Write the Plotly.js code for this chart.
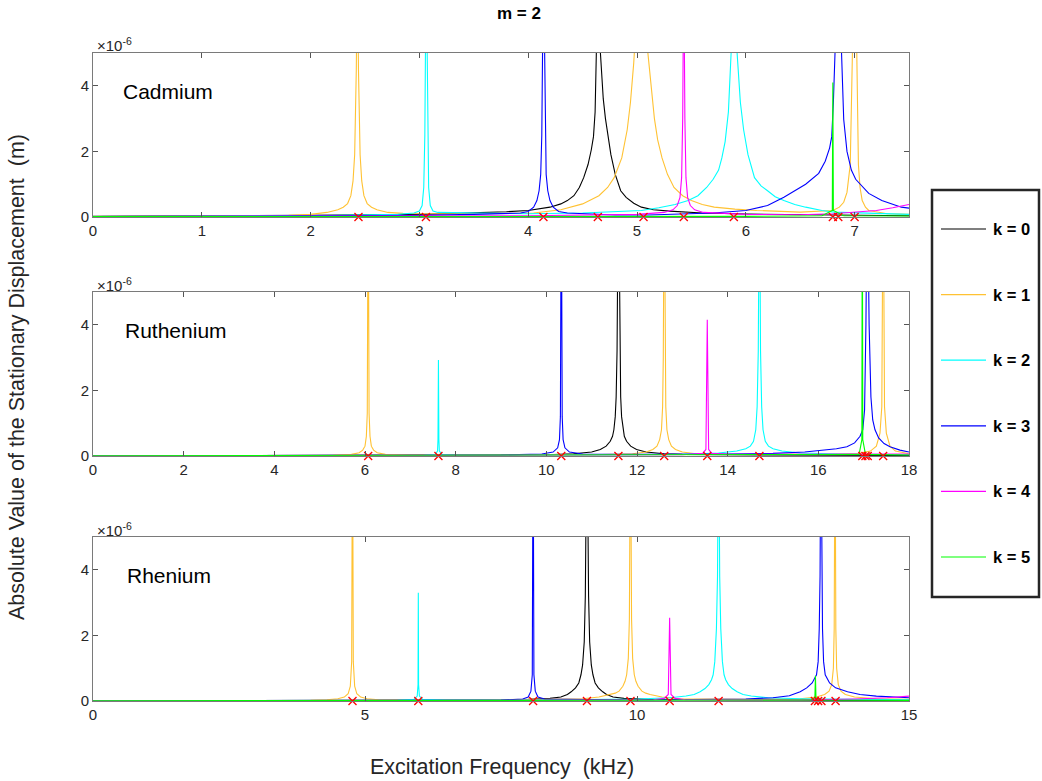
<!DOCTYPE html>
<html>
<head>
<meta charset="utf-8">
<script src="https://cdn.plot.ly/plotly-3.0.1.min.js"></script>
<style>
  body { margin: 0; background: #fff; }
  #chart { width: 1042px; height: 781px; }
</style>
</head>
<body>
<div id="chart"></div>
<script>
// amplitudes are in units of 1e-6 m, frequencies in kHz
const kLabels = ['k = 0', 'k = 1', 'k = 2', 'k = 3', 'k = 4', 'k = 5'];
const kColors = ['#000000', '#ffc233', '#00ffff', '#0000ff', '#ff00ff', '#00ff00'];

// Cadmium
const cdFreq0 = [0, 1, 2, 3, 3.5, 3.8, 4.0, 4.2, 4.3, 4.36, 4.42, 4.47, 4.51, 4.55, 4.58, 4.6, 4.615, 4.63, 4.645, 4.66, 4.675, 4.69, 4.71, 4.73, 4.76, 4.8, 4.85, 4.9, 4.97, 5.04, 5.15, 5.3, 5.45, 5.6, 6.0, 6.5, 7.0, 7.5];
const cdAmp0  = [0.02, 0.03, 0.05, 0.08, 0.12, 0.16, 0.2, 0.3, 0.4, 0.5, 0.65, 0.9, 1.2, 1.6, 2.05, 2.45, 3.2, 4.5, 8, 5.2, 4.2, 3.6, 3.0, 2.6, 1.9, 1.3, 0.8, 0.6, 0.42, 0.3, 0.22, 0.18, 0.14, 0.12, 0.09, 0.07, 0.05, 0.04];
const cdFreq1 = [0, 1, 1.8, 2.0, 2.15, 2.25, 2.3, 2.34, 2.37, 2.39, 2.405, 2.42, 2.43, 2.44, 2.455, 2.47, 2.49, 2.52, 2.56, 2.61, 2.71, 2.85,
                 3.0, 3.6, 4.05, 4.3, 4.5, 4.65, 4.73, 4.79, 4.86, 4.91, 4.94, 4.97, 5.03, 5.1, 5.13, 5.16, 5.19, 5.23, 5.28, 5.34, 5.42, 5.5, 5.6, 5.71, 5.9, 6.1,
                 6.5, 6.7, 6.8, 6.86, 6.9, 6.93, 6.96, 6.98, 7.0, 7.02, 7.035, 7.05, 7.07, 7.1, 7.13, 7.3, 7.5];
const cdAmp1  = [0.01, 0.02, 0.05, 0.08, 0.14, 0.22, 0.3, 0.41, 0.65, 1.1, 1.9, 4.5, 8, 4.5, 1.9, 1.1, 0.65, 0.41, 0.3, 0.22, 0.14, 0.11,
                 0.1, 0.1, 0.12, 0.22, 0.4, 0.65, 0.9, 1.2, 1.8, 2.66, 3.5, 4.7, 8, 5, 3.9, 3.0, 2.35, 1.8, 1.3, 0.9, 0.65, 0.5, 0.38, 0.3, 0.24, 0.2,
                 0.15, 0.17, 0.2, 0.3, 0.45, 0.75, 1.6, 5, 8, 5, 1.6, 0.9, 0.5, 0.3, 0.2, 0.1, 0.08];
const cdFreq2 = [0, 1, 2, 2.8, 2.95, 3.0, 3.025, 3.04, 3.05, 3.062, 3.075, 3.085, 3.1, 3.125, 3.17, 3.4, 4.0, 4.5, 4.8, 5.04, 5.2, 5.35, 5.47, 5.56, 5.64, 5.7, 5.75, 5.78, 5.81, 5.84, 5.865,
                 5.89, 5.92, 5.95, 5.98, 6.02, 6.08, 6.14, 6.2, 6.27, 6.35, 6.45, 6.55, 6.7, 6.81, 7.2, 7.5];
const cdAmp2  = [0.01, 0.02, 0.04, 0.08, 0.12, 0.18, 0.35, 0.9, 2.5, 8, 2.5, 0.9, 0.35, 0.18, 0.14, 0.13, 0.1, 0.12, 0.16, 0.2, 0.28, 0.38, 0.5, 0.65, 0.9, 1.15, 1.43, 1.8, 2.3, 3.2, 5,
                 8, 5, 3.5, 2.66, 1.9, 1.2, 0.95, 0.8, 0.62, 0.5, 0.38, 0.3, 0.2, 0.15, 0.1, 0.08];
const cdFreq3 = [0, 1, 2, 3, 3.5, 3.8, 3.93, 4.0, 4.05, 4.08, 4.1, 4.115, 4.125, 4.14, 4.155, 4.165, 4.18, 4.2, 4.23, 4.28, 4.36, 4.6, 4.8, 5.1, 5.4, 5.7,
                 6.0, 6.2, 6.35, 6.45, 6.55, 6.67, 6.73, 6.77, 6.79, 6.805, 6.815, 6.85, 6.88, 6.89, 6.9, 6.93, 6.97, 7.01, 7.05, 7.13, 7.25, 7.35, 7.43, 7.5];
const cdAmp3  = [0.01, 0.02, 0.03, 0.05, 0.08, 0.1, 0.12, 0.17, 0.3, 0.5, 0.8, 1.3, 2.5, 8, 2.5, 1.3, 0.8, 0.5, 0.3, 0.17, 0.12, 0.08, 0.06, 0.06, 0.08, 0.12,
                 0.2, 0.35, 0.6, 0.8, 1.0, 1.33, 1.7, 2.1, 2.45, 3.5, 5, 8, 5, 3.8, 2.97, 2.0, 1.43, 1.15, 1.0, 0.72, 0.5, 0.38, 0.3, 0.27];
const cdFreq4 = [0, 2, 4, 5.0, 5.25, 5.33, 5.37, 5.395, 5.41, 5.42, 5.43, 5.44, 5.45, 5.465, 5.49, 5.53, 5.61, 6.0, 6.5, 6.8, 7.0, 7.2, 7.35, 7.5];
const cdAmp4  = [0.01, 0.02, 0.04, 0.08, 0.14, 0.22, 0.35, 0.6, 1.2, 3, 8, 3, 1.2, 0.6, 0.35, 0.22, 0.14, 0.08, 0.07, 0.1, 0.14, 0.2, 0.28, 0.38];
const cdFreq5 = [0, 3, 6, 6.7, 6.795, 6.8, 6.805, 6.9, 7.5];
const cdAmp5  = [0.01, 0.01, 0.02, 0.04, 0.2, 4.1, 0.2, 0.04, 0.03];
const cdRes   = [2.44, 3.06, 4.14, 4.64, 5.06, 5.43, 5.89, 6.80, 6.85, 7.0];

// Ruthenium
const ruFreq0 = [0, 4, 8, 10, 10.6, 11.0, 11.19, 11.32, 11.41, 11.46, 11.49, 11.52, 11.54, 11.56, 11.59, 11.62, 11.64, 11.66, 11.69, 11.72, 11.77, 11.86, 11.99, 12.2, 12.6, 13, 15, 18];
const ruAmp0  = [0.005, 0.01, 0.02, 0.04, 0.07, 0.12, 0.2, 0.3, 0.45, 0.6, 0.8, 1.2, 1.8, 3.2, 9, 3.2, 1.8, 1.2, 0.8, 0.6, 0.45, 0.3, 0.2, 0.12, 0.07, 0.05, 0.03, 0.02];
const ruFreq1 = [0, 4, 5.3, 5.7, 5.87, 5.95, 6.0, 6.03, 6.05, 6.07, 6.09, 6.11, 6.14, 6.19, 6.27, 6.45, 7, 9, 11,
                 11.9, 12.2, 12.35, 12.44, 12.5, 12.54, 12.565, 12.58, 12.6, 12.62, 12.635, 12.66, 12.7, 12.76, 12.85, 13.0, 13.3, 14, 16,
                 16.9, 17.15, 17.28, 17.36, 17.4, 17.43, 17.46, 17.5, 17.58, 17.7, 18];
const ruAmp1  = [0.005, 0.01, 0.02, 0.05, 0.1, 0.18, 0.3, 0.6, 1.3, 9, 1.3, 0.6, 0.3, 0.18, 0.1, 0.05, 0.03, 0.03, 0.04,
                 0.07, 0.12, 0.2, 0.3, 0.5, 0.8, 1.5, 3, 9, 3, 1.5, 0.8, 0.5, 0.3, 0.2, 0.12, 0.07, 0.05, 0.05,
                 0.08, 0.15, 0.3, 0.7, 1.5, 9, 1.5, 0.7, 0.3, 0.15, 0.07];
const ruFreq2 = [0, 5, 7.3, 7.55, 7.6, 7.61, 7.62, 7.63, 7.64, 7.7, 8, 10, 13, 13.8, 14.2, 14.4, 14.5, 14.57, 14.62, 14.65, 14.675, 14.7,
                 14.725, 14.75, 14.78, 14.83, 14.9, 15.0, 15.2, 15.6, 16.5, 18];
const ruAmp2  = [0.005, 0.01, 0.02, 0.05, 0.15, 0.5, 2.93, 0.5, 0.15, 0.05, 0.03, 0.03, 0.05, 0.09, 0.15, 0.22, 0.3, 0.45, 0.8, 1.5, 3.2, 9,
                 3.2, 1.5, 0.8, 0.45, 0.3, 0.22, 0.15, 0.09, 0.06, 0.04];
const ruFreq3 = [0, 5, 9, 9.9, 10.15, 10.25, 10.29, 10.31, 10.33, 10.35, 10.37, 10.41, 10.51, 10.8, 12, 14, 15, 15.7, 16.1, 16.4, 16.63, 16.8, 16.92, 16.98,
                 17.02, 17.05, 17.08, 17.12, 17.16, 17.2, 17.25, 17.33, 17.45, 17.58, 17.8, 18];
const ruAmp3  = [0.005, 0.01, 0.03, 0.06, 0.12, 0.25, 0.5, 1.2, 9, 1.2, 0.5, 0.25, 0.12, 0.06, 0.05, 0.06, 0.08, 0.12, 0.17, 0.22, 0.28, 0.4, 0.6, 0.8,
                 1.4, 4, 9, 4, 1.8, 1.1, 0.8, 0.55, 0.38, 0.28, 0.18, 0.12];
const ruFreq4 = [0, 8, 13, 13.45, 13.52, 13.55, 13.58, 13.65, 14, 18];
const ruAmp4  = [0.005, 0.02, 0.04, 0.08, 0.2, 4.15, 0.2, 0.08, 0.05, 0.06];
const ruFreq5 = [0, 10, 16.9, 16.96, 16.97, 16.98, 17.04, 18];
const ruAmp5  = [0.005, 0.02, 0.05, 0.5, 9, 0.5, 0.05, 0.03];
const ruRes   = [6.07, 7.62, 10.33, 11.59, 12.6, 13.55, 14.7, 16.97, 17.04, 17.09, 17.43];

// Rhenium
const reFreq0 = [0, 4, 7, 8.0, 8.4, 8.6, 8.72, 8.79, 8.87, 8.93, 8.97, 9.0, 9.03, 9.05, 9.08, 9.11, 9.13, 9.16, 9.19, 9.23, 9.29, 9.37, 9.44, 9.56, 9.76, 10.2, 12, 15];
const reAmp0  = [0.005, 0.01, 0.03, 0.05, 0.08, 0.12, 0.2, 0.28, 0.4, 0.55, 0.8, 1.1, 1.8, 3.2, 9, 3.2, 1.8, 1.1, 0.8, 0.55, 0.4, 0.28, 0.2, 0.12, 0.08, 0.05, 0.03, 0.02];
const reFreq1 = [0, 3, 4.0, 4.3, 4.5, 4.62, 4.69, 4.73, 4.755, 4.77, 4.785, 4.81, 4.85, 4.92, 5.04, 5.25, 5.6, 7,
                 9.0, 9.3, 9.52, 9.6, 9.67, 9.74, 9.78, 9.81, 9.84, 9.86, 9.88, 9.9, 9.92, 9.95, 9.98, 10.02, 10.09, 10.16, 10.24, 10.46, 10.8, 12,
                 13.0, 13.3, 13.45, 13.53, 13.58, 13.61, 13.625, 13.64, 13.655, 13.67, 13.7, 13.75, 13.83, 14.0, 14.4, 15];
const reAmp1  = [0.005, 0.01, 0.02, 0.04, 0.07, 0.12, 0.22, 0.45, 1.2, 9, 1.2, 0.45, 0.22, 0.12, 0.07, 0.04, 0.03, 0.03,
                 0.07, 0.12, 0.2, 0.24, 0.3, 0.45, 0.6, 0.8, 1.3, 2.5, 9, 2.5, 1.3, 0.8, 0.6, 0.45, 0.3, 0.24, 0.2, 0.12, 0.07, 0.05,
                 0.07, 0.12, 0.2, 0.3, 0.5, 1.0, 2.2, 9, 2.2, 1.0, 0.5, 0.3, 0.2, 0.12, 0.07, 0.05];
const reFreq2 = [0, 4, 5.6, 5.9, 5.96, 5.975, 5.98, 5.985, 6.0, 6.06, 6.5, 8, 10, 10.6, 10.9, 11.05, 11.16, 11.25, 11.32, 11.37, 11.4, 11.43, 11.46, 11.48, 11.5,
                 11.52, 11.54, 11.57, 11.6, 11.63, 11.68, 11.75, 11.84, 11.95, 12.1, 12.4, 13, 15];
const reAmp2  = [0.005, 0.01, 0.02, 0.05, 0.15, 0.5, 3.3, 0.5, 0.15, 0.05, 0.03, 0.03, 0.06, 0.1, 0.15, 0.2, 0.28, 0.38, 0.5, 0.65, 0.8, 1.2, 2.2, 3.8, 9,
                 3.8, 2.2, 1.2, 0.8, 0.65, 0.5, 0.38, 0.28, 0.2, 0.15, 0.1, 0.07, 0.04];
const reFreq3 = [0, 4, 7.5, 7.9, 8.0, 8.05, 8.075, 8.09, 8.105, 8.13, 8.18, 8.3, 10, 12, 12.5, 12.8, 13.0, 13.12, 13.22, 13.3, 13.33, 13.35, 13.365, 13.38,
                 13.395, 13.41, 13.43, 13.46, 13.54, 13.65, 13.87, 14.1, 14.4, 15];
const reAmp3  = [0.005, 0.01, 0.03, 0.06, 0.12, 0.3, 0.8, 9, 0.8, 0.3, 0.12, 0.06, 0.03, 0.06, 0.1, 0.16, 0.28, 0.4, 0.55, 0.8, 1.2, 2.2, 3.8, 9,
                 3.8, 2.2, 1.2, 0.8, 0.55, 0.4, 0.28, 0.2, 0.15, 0.1];
const reFreq4 = [0, 5, 10.3, 10.5, 10.575, 10.6, 10.625, 10.7, 10.9, 13, 14, 14.6, 15];
const reAmp4  = [0.005, 0.01, 0.04, 0.08, 0.2, 2.54, 0.2, 0.08, 0.04, 0.03, 0.06, 0.1, 0.15];
const reFreq5 = [0, 7, 13.2, 13.27, 13.28, 13.29, 13.36, 15];
const reAmp5  = [0.005, 0.01, 0.03, 0.1, 0.77, 0.1, 0.03, 0.02];
const reRes   = [4.77, 5.98, 8.09, 9.08, 9.88, 10.6, 11.5, 13.27, 13.33, 13.39, 13.65];

const panels = [
    {name: 'Cadmium', freqs: [cdFreq0, cdFreq1, cdFreq2, cdFreq3, cdFreq4, cdFreq5],
     amps: [cdAmp0, cdAmp1, cdAmp2, cdAmp3, cdAmp4, cdAmp5], res: cdRes, xmax: 7.5, dtick: 1},
    {name: 'Ruthenium', freqs: [ruFreq0, ruFreq1, ruFreq2, ruFreq3, ruFreq4, ruFreq5],
     amps: [ruAmp0, ruAmp1, ruAmp2, ruAmp3, ruAmp4, ruAmp5], res: ruRes, xmax: 18, dtick: 2},
    {name: 'Rhenium', freqs: [reFreq0, reFreq1, reFreq2, reFreq3, reFreq4, reFreq5],
     amps: [reAmp0, reAmp1, reAmp2, reAmp3, reAmp4, reAmp5], res: reRes, xmax: 15, dtick: 5}
];

const W = 1042, H = 781;
const px = v => v / W;
const py = v => 1 - v / H;
// pixel top/bottom of every panel
const panelTop = [53, 292, 537];
const panelBot = [217, 456, 701];
const axLeft = 93, axRight = 909;

const fontFam = '"Liberation Sans", Arial, sans-serif';
const ink = '#262626';

let traces = [];
let layout = {
    width: W, height: H,
    margin: {l: 0, r: 0, t: 0, b: 0},
    paper_bgcolor: '#fff', plot_bgcolor: '#fff',
    showlegend: false,
    font: {family: fontFam, color: ink},
    annotations: [],
    shapes: []
};

panels.forEach((p, i) => {
    let n = i === 0 ? '' : String(i + 1);
    let xa = 'x' + n, ya = 'y' + n;
    for (let k = 0; k < 6; k++) {
        traces.push({
            x: p.freqs[k], y: p.amps[k],
            xaxis: xa, yaxis: ya,
            type: 'scatter', mode: 'lines',
            name: kLabels[k],
            line: {color: kColors[k], width: 1.1},
            hoverinfo: 'x+y'
        });
    }
    traces.push({
        x: p.res, y: p.res.map(() => 0),
        xaxis: xa, yaxis: ya,
        type: 'scatter', mode: 'markers',
        marker: {symbol: 'x-thin', size: 8, line: {color: '#ff0000', width: 1.3}},
        cliponaxis: false
    });

    let axCommon = {
        showline: true, linecolor: '#7a7a7a', linewidth: 1, mirror: 'ticks',
        ticks: 'inside', ticklen: 5, tickcolor: '#555', showgrid: false, zeroline: false,
        tickfont: {size: 15, color: ink, family: fontFam}
    };
    layout['xaxis' + n] = Object.assign({}, axCommon, {
        domain: [px(axLeft), px(axRight)], anchor: ya,
        range: [0, p.xmax], dtick: p.dtick, tick0: 0
    });
    layout['yaxis' + n] = Object.assign({}, axCommon, {
        domain: [py(panelBot[i]), py(panelTop[i])], anchor: xa,
        range: [0, 5], dtick: 2, tick0: 0
    });
    layout.annotations.push({
        xref: 'paper', yref: 'paper', x: px(95), y: py(panelTop[i] - 8),
        xanchor: 'left', yanchor: 'middle', showarrow: false,
        text: '×10<sup>-6</sup>', font: {size: 15, color: ink}
    });
    layout.annotations.push({
        xref: 'paper', yref: 'paper', x: px(121 + 2 * i), y: py(panelTop[i] + 38),
        xanchor: 'left', yanchor: 'middle', showarrow: false,
        text: p.name, font: {size: 21, color: '#000'}
    });
});

layout.annotations.push({
    xref: 'paper', yref: 'paper', x: px(519), y: py(14),
    xanchor: 'center', yanchor: 'middle', showarrow: false,
    text: '<b>m = 2</b>', font: {size: 17, color: '#000'}
});
layout.annotations.push({
    xref: 'paper', yref: 'paper', x: px(502), y: py(767),
    xanchor: 'center', yanchor: 'middle', showarrow: false,
    text: 'Excitation Frequency  (kHz)', font: {size: 21.5, color: ink}
});
layout.annotations.push({
    xref: 'paper', yref: 'paper', x: px(17), y: py(377),
    xanchor: 'center', yanchor: 'middle', showarrow: false, textangle: -90,
    text: 'Absolute Value of the Stationary Displacement  (m)', font: {size: 21.5, color: ink}
});

// legend box (drawn by hand so the item spacing matches)
layout.shapes.push({
    type: 'rect', xref: 'paper', yref: 'paper',
    x0: px(932), x1: px(1039), y0: py(597), y1: py(190),
    line: {color: ink, width: 2.5}, fillcolor: 'rgba(255,255,255,0)'
});
kLabels.forEach((lab, k) => {
    let yy = 229 + k * 65.6;
    layout.shapes.push({
        type: 'line', xref: 'paper', yref: 'paper',
        x0: px(941), x1: px(986), y0: py(yy), y1: py(yy),
        line: {color: kColors[k], width: 1.2}
    });
    layout.annotations.push({
        xref: 'paper', yref: 'paper', x: px(991), y: py(yy),
        xanchor: 'left', yanchor: 'middle', showarrow: false,
        text: '<b>' + lab + '</b>', font: {size: 16.5, color: '#000'}
    });
});

Plotly.newPlot('chart', traces, layout, {displayModeBar: false, staticPlot: true});
</script>
</body>
</html>
